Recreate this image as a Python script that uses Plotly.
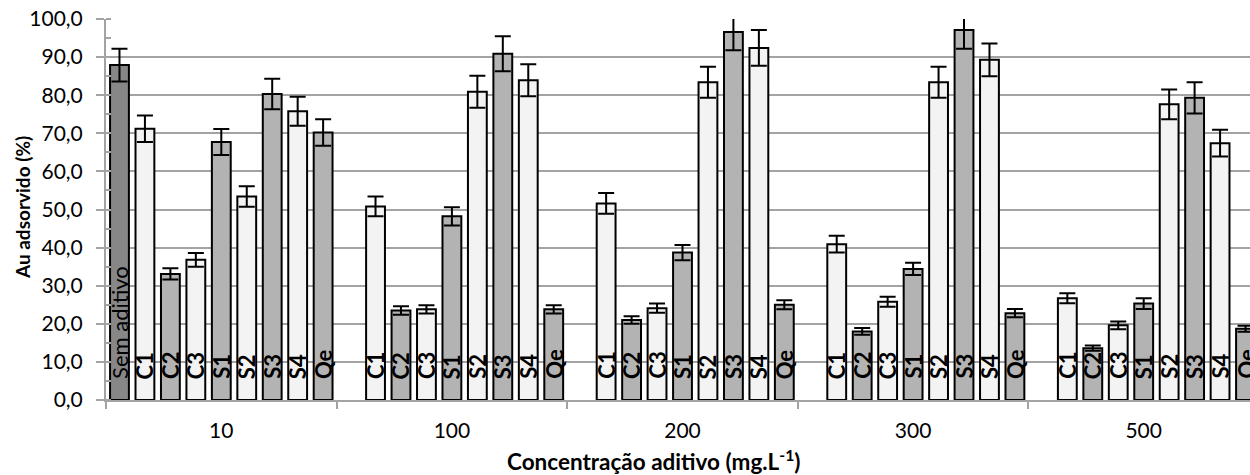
import plotly.graph_objects as go

groups = ["10", "100", "200", "300", "500"]
series_names = ["Sem aditivo", "C1", "C2", "C3", "S1", "S2", "S3", "S4", "Qe"]

sem_aditivo = [87.9, None, None, None, None]
sem_aditivo_err = [4.3, None, None, None, None]
c1 = [71.2, 50.8, 51.6, 40.9, 26.7]
c1_err = [3.5, 2.6, 2.7, 2.2, 1.3]
c2 = [33.1, 23.5, 21.0, 18.0, 13.6]
c2_err = [1.5, 1.1, 1.0, 0.9, 0.7]
c3 = [36.8, 23.8, 24.1, 25.8, 19.6]
c3_err = [1.8, 1.1, 1.2, 1.3, 1.0]
s1 = [67.7, 48.2, 38.7, 34.4, 25.3]
s1_err = [3.4, 2.4, 2.0, 1.6, 1.4]
s2 = [53.4, 80.9, 83.4, 83.4, 77.6]
s2_err = [2.7, 4.2, 4.1, 4.1, 3.9]
s3 = [80.3, 90.9, 96.6, 97.1, 79.3]
s3_err = [4.0, 4.6, 4.8, 4.9, 4.1]
s4 = [75.8, 83.9, 92.4, 89.3, 67.4]
s4_err = [3.8, 4.2, 4.7, 4.3, 3.5]
qe = [70.2, 23.8, 25.0, 22.8, 18.7]
qe_err = [3.5, 1.1, 1.2, 1.1, 0.8]

y_tick_vals = [0, 10, 20, 30, 40, 50, 60, 70, 80, 90, 100]
y_tick_text = ["0,0", "10,0", "20,0", "30,0", "40,0", "50,0", "60,0", "70,0", "80,0", "90,0", "100,0"]

values = [sem_aditivo, c1, c2, c3, s1, s2, s3, s4, qe]
errors = [sem_aditivo_err, c1_err, c2_err, c3_err, s1_err, s2_err, s3_err, s4_err, qe_err]

DARK = "#878787"
GRAY = "#b3b3b3"
LIGHT = "#f3f3f3"
colors = [DARK, LIGHT, GRAY, LIGHT, GRAY, LIGHT, GRAY, LIGHT, GRAY]

FONT = "Lato"
AXIS_COL = "#a3a3a3"

BARGAP = 0.0065
n = len(series_names)
slot = (1 - BARGAP) / n

fig = go.Figure()
annotations = []
for i, (name, vals, errs, col) in enumerate(zip(series_names, values, errors, colors)):
    fig.add_trace(go.Bar(
        name=name, x=groups, y=vals,
        marker=dict(color=col, line=dict(color="black", width=2)),
        error_y=dict(type="data", array=errs, visible=True, color="black",
                     thickness=2, width=8),
        showlegend=False, hoverinfo="skip",
    ))
    for g, v in enumerate(vals):
        if v is None:
            continue
        if i == 0:
            label, fsize = name, 22
        else:
            label, fsize = "<b>%s</b>" % name, 22
        annotations.append(dict(
            x=g + (i - (n - 1) / 2) * slot, y=0, xref="x", yref="y",
            text=label, showarrow=False, textangle=-90,
            xanchor="center", yanchor="bottom", yshift=19,
            font=dict(family=FONT, size=fsize, color="black"),
        ))

annotations.append(dict(
    x=(654 - 106) / 1144, y=-0.158, xref="paper", yref="paper",
    text="<b>Concentração aditivo (mg.L<sup>-1</sup>)</b>", showarrow=False,
    xanchor="center", yanchor="middle",
    font=dict(family=FONT, size=22.5, color="black"),
))
annotations.append(dict(
    x=(22.5 - 106) / 1144, y=0.505, xref="paper", yref="paper",
    text="<b>Au adsorvido (%)</b>", showarrow=False, textangle=-90,
    xanchor="center", yanchor="middle",
    font=dict(family=FONT, size=19, color="black"),
))

fig.update_layout(
    width=1250, height=475,
    margin=dict(l=106, r=0, t=19, b=75),
    paper_bgcolor="white", plot_bgcolor="white",
    barmode="group", bargap=BARGAP, bargroupgap=0.26,
    font=dict(family=FONT, size=21, color="black"),
    annotations=annotations,
    xaxis=dict(
        type="category", range=[-0.5, -0.5 + 1144 / 230.6],
        showline=True, linecolor=AXIS_COL, linewidth=2,
        ticks="outside", tickson="boundaries", ticklen=7, tickwidth=2, tickcolor=AXIS_COL,
        ticklabelstandoff=11,
        showgrid=False, tickfont=dict(family=FONT, size=21, color="black"),
    ),
    yaxis=dict(
        range=[0, 100], tickvals=y_tick_vals, ticktext=y_tick_text,
        showline=True, linecolor=AXIS_COL, linewidth=2,
        ticks="outside", ticklen=8, tickwidth=2, tickcolor=AXIS_COL,
        ticklabelstandoff=9,
        showgrid=True, gridcolor=AXIS_COL, gridwidth=2, zeroline=False,
        minor=dict(dtick=5, ticks="inside", ticklen=5, tickwidth=2, tickcolor=AXIS_COL, showgrid=False),
        tickfont=dict(family=FONT, size=21, color="black"),
    ),
)

fig.write_html("out.html", config={"displayModeBar": False},
               post_script="document.body.style.margin='0px';")
